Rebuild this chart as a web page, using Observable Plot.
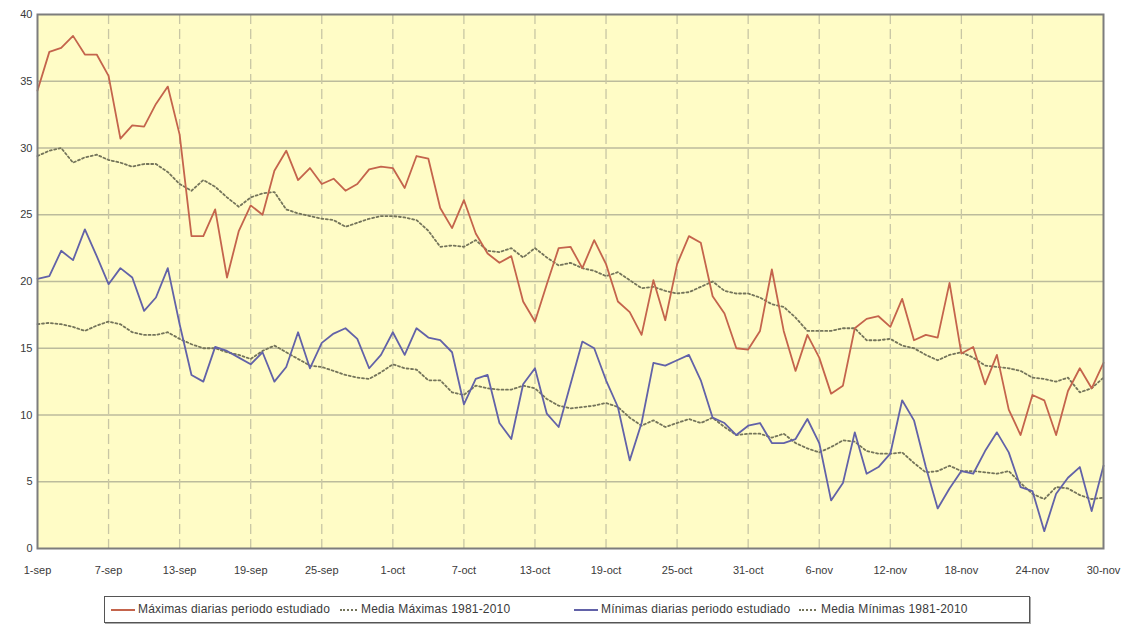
<!DOCTYPE html>
<html>
<head>
<meta charset="utf-8">
<script src="https://cdn.jsdelivr.net/npm/d3@7"></script>
<script src="https://cdn.jsdelivr.net/npm/@observablehq/plot@0.6"></script>
<style>
  html, body { margin: 0; padding: 0; background: #fff; }
  #wrap { position: relative; width: 1124px; height: 636px; font-family: "Liberation Sans", Arial, sans-serif; }
  #legend { position: absolute; left: 104px; top: 596px; width: 924px; height: 25px;
    border: 1px solid #555; box-shadow: 1px 1px 0 #aaa; background: #fff; }
  .item { position: absolute; top: 0; height: 25px; line-height: 25px; font-size: 12px; letter-spacing: 0.2px; color: #3a3a3a; white-space: nowrap; }
  .sw { position: absolute; top: 12px; height: 0; }
</style>
</head>
<body>
<div id="wrap">
  <div id="chart"></div>
  <div id="legend"></div>
</div>
<script>
// Tick labels (every 6 days, 1-sep .. 30-nov; day index 0..90)
const tickDays = [0, 6, 12, 18, 24, 30, 36, 42, 48, 54, 60, 66, 72, 78, 84, 90];
const tickLabels = ["1-sep", "7-sep", "13-sep", "19-sep", "25-sep", "1-oct", "7-oct", "13-oct",
  "19-oct", "25-oct", "31-oct", "6-nov", "12-nov", "18-nov", "24-nov", "30-nov"];
const yTicks = [0, 5, 10, 15, 20, 25, 30, 35, 40];

const seriesNames = ["Máximas diarias periodo estudiado", "Media Máximas 1981-2010",
  "Mínimas diarias periodo estudiado", "Media Mínimas 1981-2010"];

const maxDiarias = [34.3, 37.2, 37.5, 38.4, 37.0, 37.0, 35.4, 30.7, 31.7, 31.6,
  33.3, 34.6, 31.0, 23.4, 23.4, 25.4, 20.3, 23.8, 25.7, 25.0,
  28.3, 29.8, 27.6, 28.5, 27.3, 27.7, 26.8, 27.3, 28.4, 28.6,
  28.5, 27.0, 29.4, 29.2, 25.5, 24.0, 26.1, 23.6, 22.1, 21.4,
  21.9, 18.5, 17.0, 19.8, 22.5, 22.6, 21.0, 23.1, 21.3, 18.5,
  17.7, 16.0, 20.1, 17.1, 21.3, 23.4, 22.9, 18.9, 17.6, 15.0,
  14.9, 16.3, 20.9, 16.3, 13.3, 16.0, 14.3, 11.6, 12.2, 16.5,
  17.2, 17.4, 16.6, 18.7, 15.6, 16.0, 15.8, 19.9, 14.6, 15.1,
  12.3, 14.5, 10.4, 8.5, 11.5, 11.1, 8.5, 11.8, 13.5, 12.0, 13.9];

const mediaMax = [29.4, 29.8, 30.0, 28.9, 29.3, 29.5, 29.1, 28.9, 28.6, 28.8,
  28.8, 28.2, 27.3, 26.8, 27.6, 27.1, 26.3, 25.6, 26.3, 26.6,
  26.7, 25.4, 25.1, 24.9, 24.7, 24.6, 24.1, 24.4, 24.7, 24.9,
  24.9, 24.8, 24.6, 23.8, 22.6, 22.7, 22.6, 23.1, 22.3, 22.2,
  22.5, 21.8, 22.5, 21.8, 21.2, 21.4, 21.0, 20.8, 20.4, 20.7,
  20.1, 19.5, 19.6, 19.3, 19.1, 19.2, 19.6, 20.0, 19.3, 19.1,
  19.1, 18.8, 18.3, 18.1, 17.3, 16.3, 16.3, 16.3, 16.5, 16.5,
  15.6, 15.6, 15.7, 15.2, 15.0, 14.5, 14.1, 14.5, 14.7, 14.3,
  13.7, 13.6, 13.5, 13.3, 12.8, 12.7, 12.5, 12.8, 11.7, 12.0, 12.8];

const minDiarias = [20.2, 20.4, 22.3, 21.6, 23.9, 21.9, 19.8, 21.0, 20.3, 17.8,
  18.8, 21.0, 16.8, 13.0, 12.5, 15.1, 14.8, 14.3, 13.8, 14.7,
  12.5, 13.6, 16.2, 13.5, 15.4, 16.1, 16.5, 15.7, 13.5, 14.5,
  16.2, 14.5, 16.5, 15.8, 15.6, 14.7, 10.8, 12.7, 13.0, 9.4,
  8.2, 12.3, 13.5, 10.1, 9.1, 12.3, 15.5, 15.0, 12.6, 10.6,
  6.6, 9.4, 13.9, 13.7, 14.1, 14.5, 12.6, 9.8, 9.4, 8.5,
  9.2, 9.4, 7.9, 7.9, 8.2, 9.7, 7.9, 3.6, 4.9, 8.7,
  5.6, 6.1, 7.1, 11.1, 9.6, 6.1, 3.0, 4.5, 5.8, 5.6,
  7.3, 8.7, 7.2, 4.6, 4.3, 1.3, 4.1, 5.3, 6.1, 2.8, 6.2];

const mediaMin = [16.8, 16.9, 16.8, 16.6, 16.3, 16.7, 17.0, 16.8, 16.2, 16.0,
  16.0, 16.2, 15.7, 15.3, 15.0, 15.0, 14.7, 14.5, 14.2, 14.8,
  15.2, 14.7, 14.2, 13.7, 13.6, 13.3, 13.0, 12.8, 12.7, 13.2,
  13.8, 13.5, 13.4, 12.6, 12.6, 11.7, 11.5, 12.2, 12.0, 11.9,
  11.9, 12.2, 12.0, 11.2, 10.7, 10.5, 10.6, 10.7, 10.9, 10.6,
  9.8, 9.2, 9.6, 9.1, 9.4, 9.7, 9.4, 9.8, 9.1, 8.5,
  8.6, 8.6, 8.3, 8.6, 7.9, 7.5, 7.2, 7.6, 8.1, 8.0,
  7.3, 7.1, 7.1, 7.2, 6.4, 5.7, 5.8, 6.2, 5.8, 5.8,
  5.7, 5.6, 5.8, 4.9, 4.1, 3.7, 4.6, 4.5, 4.0, 3.7, 3.8];

const RED = "#c4644c", BLUE = "#6262a8", DOT = "#74745a";

const toRows = arr => arr.map((v, i) => ({ day: i, v }));
const label = d => tickLabels[tickDays.indexOf(d)];

const chart = Plot.plot({
  width: 1124,
  height: 585,
  marginTop: 14,
  marginBottom: 37,
  marginLeft: 37,
  marginRight: 21,
  style: { fontFamily: "'Liberation Sans', Arial, sans-serif", fontSize: "11px", color: "#3a3a3a", background: "#fff" },
  x: { domain: [0, 90] },
  y: { domain: [0, 40] },
  marks: [
    Plot.frame({ fill: "#fffcc6" }),
    Plot.gridY(yTicks.filter(v => v > 0 && v < 40), { stroke: "#bcbb9c", strokeOpacity: 1, strokeWidth: 1.3 }),
    Plot.gridX(tickDays.slice(1, -1), { stroke: "#c8c6a4", strokeOpacity: 1, strokeWidth: 1.3, strokeDasharray: "10,5" }),
    Plot.line(toRows(mediaMax), { x: "day", y: "v", stroke: DOT, strokeWidth: 1.8, strokeDasharray: "2,2.5" }),
    Plot.line(toRows(mediaMin), { x: "day", y: "v", stroke: DOT, strokeWidth: 1.8, strokeDasharray: "2,2.5" }),
    Plot.line(toRows(maxDiarias), { x: "day", y: "v", stroke: RED, strokeWidth: 1.8 }),
    Plot.line(toRows(minDiarias), { x: "day", y: "v", stroke: BLUE, strokeWidth: 1.8 }),
    Plot.frame({ stroke: "#7d7d7d", strokeWidth: 2 }),
    Plot.axisX({ ticks: tickDays, tickFormat: label, tickSize: 0, tickPadding: 18, fill: "#3a3a3a", label: null, style: { letterSpacing: "0.3px" } }),
    Plot.axisY({ ticks: yTicks, tickSize: 0, tickPadding: 5, fill: "#3a3a3a", label: null })
  ]
});
document.getElementById("chart").appendChild(chart);

// Legend
const legend = document.getElementById("legend");
const items = [
  { name: seriesNames[0], color: RED, dotted: false, left: 6, textLeft: 33 },
  { name: seriesNames[1], color: DOT, dotted: true, left: 235, textLeft: 256 },
  { name: seriesNames[2], color: BLUE, dotted: false, left: 469, textLeft: 496 },
  { name: seriesNames[3], color: DOT, dotted: true, left: 694, textLeft: 716 }
];
items.forEach(it => {
  const sw = document.createElement("div");
  sw.className = "sw";
  sw.style.left = it.left + "px";
  sw.style.width = it.dotted ? "17px" : "24px";
  sw.style.borderTop = it.dotted ? `2px dotted ${it.color}` : `2px solid ${it.color}`;
  legend.appendChild(sw);
  const t = document.createElement("div");
  t.className = "item";
  t.style.left = it.textLeft + "px";
  t.textContent = it.name;
  legend.appendChild(t);
});
</script>
</body>
</html>
